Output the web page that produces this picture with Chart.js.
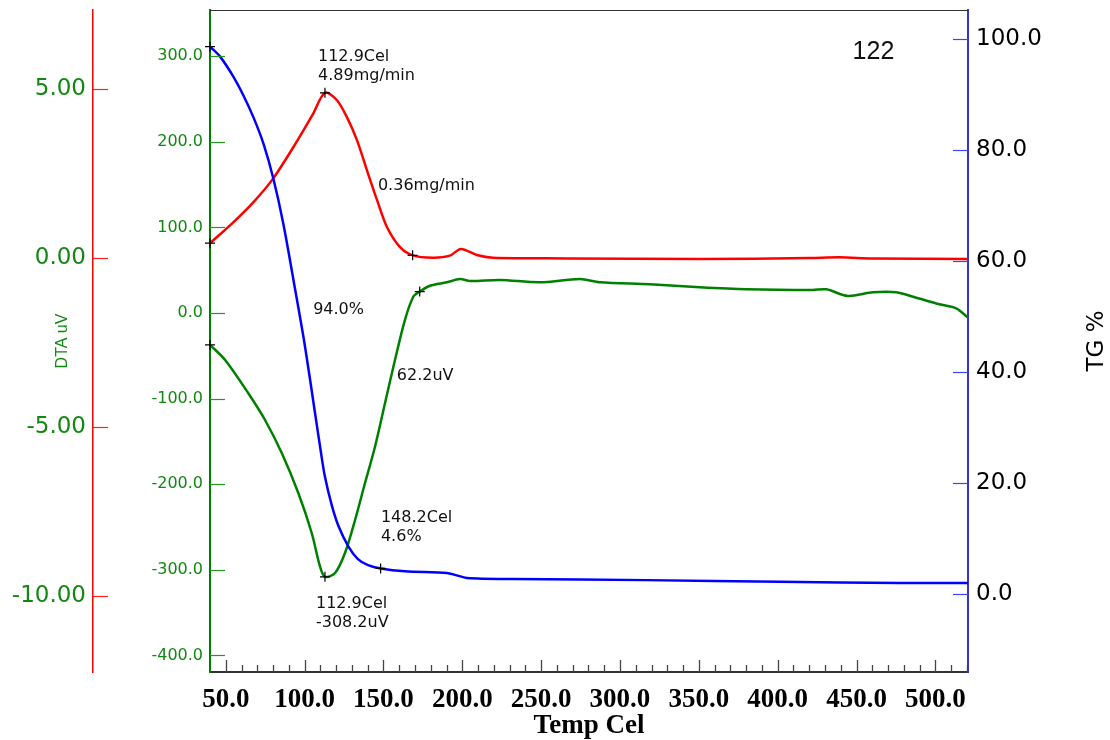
<!DOCTYPE html>
<html lang="en">
<head>
<meta charset="UTF-8">
<title>TG / DTA 122</title>
<style>
    body { margin: 0; background: #ffffff; }
    #tgChart { display: block; }
</style>
</head>
<body>
<canvas id="tgChart" width="1110" height="740"></canvas>
<script src="https://cdn.jsdelivr.net/npm/chart.js"></script>
<script>
// tick labels
const xTicks = [50, 100, 150, 200, 250, 300, 350, 400, 450, 500];
const dtgTicks = [5, 0, -5, -10];
const dtaTicks = [300, 200, 100, 0, -100, -200, -300, -400];
const tgTicks = [100, 80, 60, 40, 20, 0];

// TG % (blue)
const tgTemp = [40, 46.4, 54.8, 61.2, 67.5, 73.8, 80.2, 86.5, 93.9, 100.3, 106.6, 110.2, 112.9, 117.2, 121.4, 127.7, 133.8, 140.2, 148.2, 163.6, 190.2, 196, 202.9, 232.1, 317, 401.3, 477.4, 521];
const tgVal = [98.6, 96.8, 93.2, 89.8, 85.9, 81.2, 74.8, 66.7, 55.0, 44.5, 32.6, 25.8, 21.1, 16.0, 12.3, 8.6, 6.3, 5.2, 4.6, 4.1, 3.8, 3.4, 2.9, 2.7, 2.5, 2.2, 2.0, 2.0];

// DTG mg/min (red)
const dtgTemp = [40, 54.6, 67.3, 80.0, 95.2, 105.3, 112.9, 120.5, 126.8, 133.2, 139.5, 145.9, 152.2, 160.4, 168.5, 181.4, 192.1, 199.1, 209.2, 219.4, 266.3, 350.5, 420, 439.2, 460, 521];
const dtgVal = [0.44, 1.05, 1.64, 2.35, 3.46, 4.26, 4.89, 4.67, 4.17, 3.49, 2.60, 1.72, 0.92, 0.33, 0.08, 0.01, 0.07, 0.27, 0.09, 0.01, -0.01, -0.03, 0.0, 0.02, -0.01, -0.03];

// DTA uV (green)
const dtaTemp = [40, 49.6, 64.3, 74.9, 85.5, 96.0, 104.5, 109.8, 112.9, 119.3, 125.6, 132.0, 138.3, 144.6, 151.0, 157.3, 163.6, 168.9, 173.0, 179.5, 190.2, 198.5, 204.8, 223.8, 249.2, 274.5, 287.2, 318.9, 350.6, 380.2, 422.2, 430.9, 444.5, 460.4, 475.2, 487.9, 502.6, 513.2, 521];
const dtaVal = [-37.2, -54.9, -93.8, -125, -163.6, -210.3, -257, -296.4, -308.2, -303.7, -280.4, -241.8, -198.6, -156.5, -105.1, -54.9, -8.2, 19.0, 25.0, 31.9, 35.9, 39.7, 37.4, 38.6, 35.9, 39.7, 35.9, 33.5, 30.0, 27.7, 26.9, 27.7, 19.9, 24.2, 24.2, 17.9, 10.2, 5.5, -5.8];

// analysis points (+ marks)
const tgMarkT = [40, 148.2];
const tgMarkV = [98.6, 4.6];
const dtgMarkT = [40, 112.9, 168.5];
const dtgMarkV = [0.44, 4.89, 0.08];
const dtaMarkT = [40, 112.9, 173.0];
const dtaMarkV = [-37.2, -308.2, 25.0];

// text notes, placed in data units of the given axis
const notes = [
    { axis: 'yDTG', t: 108.5, v: 5.95, lines: ['112.9Cel', '4.89mg/min'] },
    { axis: 'yDTG', t: 146.5, v: 2.13, lines: ['0.36mg/min'] },
    { axis: 'yTG', t: 105.4, v: 51.2, lines: ['94.0%'] },
    { axis: 'yDTA', t: 158.5, v: -73.6, lines: ['62.2uV'] },
    { axis: 'yTG', t: 148.4, v: 13.7, lines: ['148.2Cel', '4.6%'] },
    { axis: 'yDTA', t: 107.2, v: -340, lines: ['112.9Cel', '-308.2uV'] }
];

const GREEN = '#118811';

function pts(xs, ys) {
    return xs.map((x, i) => ({ x: x, y: ys[i] }));
}

function setTicks(list) {
    return sc => { sc.ticks = list.map(v => ({ value: v })); };
}

function fitY(width) {
    return sc => { sc.width = width; sc.paddingTop = 0; sc.paddingBottom = 0; };
}

function strokeLine(ctx, x1, y1, x2, y2) {
    ctx.beginPath();
    ctx.moveTo(x1, y1);
    ctx.lineTo(x2, y2);
    ctx.stroke();
}

// inward tick marks, frame top line, notes and the TG title
const decorations = {
    id: 'decorations',
    afterDraw(chart) {
        const ctx = chart.ctx;
        const area = chart.chartArea;
        const s = chart.scales;
        ctx.save();

        ctx.strokeStyle = '#333333';
        ctx.lineWidth = 1;
        strokeLine(ctx, area.left, area.top + 0.5, area.right, area.top + 0.5);

        const yMarks = [
            { sc: s.yDTG, x: s.yDTG.right, len: 15, color: '#ff2020' },
            { sc: s.yDTA, x: s.yDTA.right, len: 15, color: '#229922' },
            { sc: s.yTG, x: s.yTG.left, len: -15, color: '#4040ff' }
        ];
        yMarks.forEach(m => {
            ctx.strokeStyle = m.color;
            ctx.lineWidth = 1.2;
            m.sc.ticks.forEach(t => {
                const y = Math.round(m.sc.getPixelForValue(t.value)) + 0.5;
                strokeLine(ctx, m.x, y, m.x + m.len, y);
            });
        });

        // x axis: long mark every 50, short mark every 10
        ctx.strokeStyle = '#444444';
        ctx.lineWidth = 1.3;
        for (let t = 50; t <= s.x.max; t += 10) {
            const x = Math.round(s.x.getPixelForValue(t)) + 0.5;
            const len = xTicks.includes(t) ? 12 : 7;
            strokeLine(ctx, x, area.bottom, x, area.bottom - len);
        }

        ctx.fillStyle = '#111111';
        ctx.font = '16px "DejaVu Sans"';
        ctx.textAlign = 'left';
        ctx.textBaseline = 'middle';
        notes.forEach(n => {
            const x = s.x.getPixelForValue(n.t);
            const y = s[n.axis].getPixelForValue(n.v);
            n.lines.forEach((txt, i) => ctx.fillText(txt, x, y + i * 19));
        });

        ctx.font = '25px "Liberation Sans"';
        ctx.fillText('122', s.x.getPixelForValue(447.5), s.yTG.getPixelForValue(97.7));

        ctx.translate(s.yTG.right - 13, (area.top + area.bottom) / 2);
        ctx.rotate(-Math.PI / 2);
        ctx.textAlign = 'center';
        ctx.fillStyle = '#000000';
        ctx.font = '23px "DejaVu Sans"';
        ctx.fillText('TG %', 0, 0);
        ctx.restore();
    }
};

function marks(xs, ys, axis) {
    return {
        data: pts(xs, ys),
        yAxisID: axis,
        showLine: false,
        pointStyle: 'cross',
        pointRadius: 5,
        borderColor: '#000000',
        borderWidth: 1.2,
        clip: false
    };
}

function curve(xs, ys, axis, color) {
    return {
        data: pts(xs, ys),
        yAxisID: axis,
        borderColor: color,
        borderWidth: 2.5,
        pointRadius: 0,
        tension: 0.3
    };
}

new Chart(document.getElementById('tgChart'), {
    type: 'line',
    data: {
        datasets: [
            marks(tgMarkT, tgMarkV, 'yTG'),
            marks(dtgMarkT, dtgMarkV, 'yDTG'),
            marks(dtaMarkT, dtaMarkV, 'yDTA'),
            curve(tgTemp, tgVal, 'yTG', '#0000ff'),
            curve(dtaTemp, dtaVal, 'yDTA', '#008000'),
            curve(dtgTemp, dtgVal, 'yDTG', '#ff0000')
        ]
    },
    options: {
        responsive: false,
        animation: false,
        layout: { padding: { top: 10, left: 0, right: 0, bottom: 0 } },
        plugins: {
            legend: { display: false },
            tooltip: { enabled: false }
        },
        scales: {
            x: {
                type: 'linear',
                min: 40,
                max: 520.7,
                bounds: 'data',
                afterBuildTicks: setTicks(xTicks),
                afterFit: sc => { sc.height = 68; sc.paddingLeft = 0; sc.paddingRight = 0; },
                grid: { display: false, drawTicks: false },
                border: { display: true, color: '#333333', width: 2 },
                ticks: {
                    color: '#000000',
                    padding: 12,
                    autoSkip: false,
                    maxRotation: 0,
                    font: { family: 'Liberation Serif', size: 27, weight: 'bold' },
                    callback: v => v.toFixed(1)
                },
                title: {
                    display: true,
                    text: 'Temp Cel',
                    color: '#000000',
                    font: { family: 'Liberation Serif', size: 27, weight: 'bold', lineHeight: 1 },
                    padding: 0
                }
            },
            yDTG: {
                type: 'linear',
                position: 'left',
                weight: 2,
                min: -12.25,
                max: 7.34,
                bounds: 'data',
                afterBuildTicks: setTicks(dtgTicks),
                afterFit: fitY(93),
                grid: { display: false, drawTicks: false },
                border: { display: true, color: '#ff0000', width: 1.5 },
                ticks: {
                    color: GREEN,
                    padding: 7,
                    font: { family: 'DejaVu Sans', size: 23 },
                    callback: v => v.toFixed(2)
                },
                title: {
                    display: true,
                    text: 'DTA uV',
                    color: GREEN,
                    font: { family: 'Liberation Sans', size: 16 },
                    padding: { top: 53, bottom: 0 }
                }
            },
            yDTA: {
                type: 'linear',
                position: 'left',
                weight: 1,
                min: -419.4,
                max: 354,
                bounds: 'data',
                afterBuildTicks: setTicks(dtaTicks),
                afterFit: fitY(117),
                grid: { display: false, drawTicks: false },
                border: { display: true, color: '#008000', width: 2 },
                ticks: {
                    color: GREEN,
                    padding: 7,
                    font: { family: 'DejaVu Sans', size: 16 },
                    callback: v => v.toFixed(1)
                }
            },
            yTG: {
                type: 'linear',
                position: 'right',
                min: -14.05,
                max: 105.2,
                bounds: 'data',
                afterBuildTicks: setTicks(tgTicks),
                afterFit: fitY(142),
                grid: { display: false, drawTicks: false },
                border: { display: true, color: '#3434c8', width: 2 },
                ticks: {
                    color: '#000000',
                    padding: 8,
                    font: { family: 'DejaVu Sans', size: 23 },
                    callback: v => v.toFixed(1)
                }
            }
        }
    },
    plugins: [decorations]
});
</script>
</body>
</html>
